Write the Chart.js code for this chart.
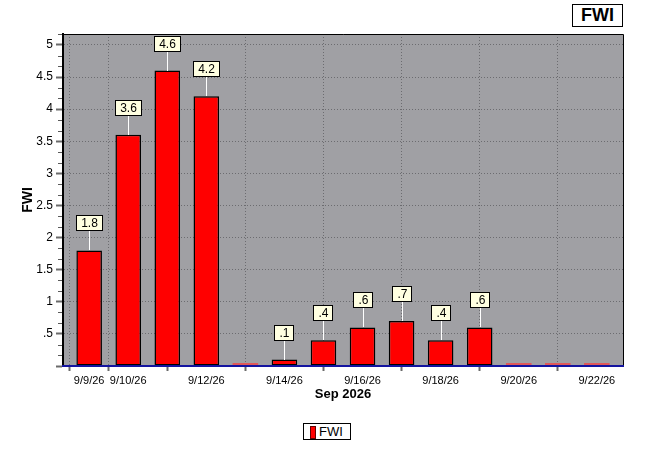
<!DOCTYPE html>
<html>
<head>
<meta charset="utf-8">
<title>FWI</title>
<script src="https://cdn.jsdelivr.net/npm/chart.js@4.4.0/dist/chart.umd.min.js"></script>
<style>
    html, body { margin: 0; padding: 0; background: #fff; }
    #wrap { position: relative; width: 655px; height: 457px; font-family: "Liberation Sans", Arial, sans-serif; }
    #fwiChart { position: absolute; left: 0; top: 0; }
    .title-box {
        position: absolute; left: 572px; top: 4px; width: 51px; height: 23px;
        box-sizing: border-box; border: 1px solid #000; background: #fff;
        font-weight: bold; font-size: 18px; line-height: 21px; text-align: center;
    }
    .legend-box {
        position: absolute; left: 303px; top: 423px; width: 48px; height: 17px;
        box-sizing: border-box; border: 1px solid #000; background: #fff;
        font-size: 13px; line-height: 15px;
    }
    .legend-box .swatch {
        position: absolute; left: 6px; top: 2px; width: 4px; height: 11px;
        background: #ff0000; border: 1px solid #600000;
    }
    .legend-box .label { position: absolute; left: 15px; top: 0; }
</style>
</head>
<body>
<div id="wrap">
    <canvas id="fwiChart" width="655" height="457"></canvas>
    <div class="title-box">FWI</div>
    <div class="legend-box"><span class="swatch"></span><span class="label">FWI</span></div>
</div>
<script>
"use strict";

// Data
var categories = ['9/9/26', '9/10/26', '9/11/26', '9/12/26', '9/13/26', '9/14/26', '9/15/26',
                  '9/16/26', '9/17/26', '9/18/26', '9/19/26', '9/20/26', '9/21/26', '9/22/26'];
var fwiValues = [1.8, 3.6, 4.6, 4.2, 0, 0.1, 0.4, 0.6, 0.7, 0.4, 0.6, 0, 0, 0];
var xTickIndexes = [0, 1, 3, 5, 7, 9, 11, 13]; // dates that carry a label
var yTickValues = [0, 0.5, 1, 1.5, 2, 2.5, 3, 3.5, 4, 4.5, 5];

var FONT = '"Liberation Sans", Arial, sans-serif';

// "0.5" -> ".5", 0 -> ""
function shortNumber(v) {
    if (v === 0) {
        return '';
    }
    return String(v).replace(/^0\./, '.');
}

var FwiChart = function () {
    var plotFrame = {
        id: 'plotFrame',
        beforeDraw: function (chart) {
            var a = chart.chartArea;
            var ctx = chart.ctx;
            ctx.save();
            ctx.fillStyle = '#a0a0a4';
            ctx.fillRect(a.left, a.top, a.right - a.left, a.bottom - a.top);
            ctx.restore();
        },
        afterDraw: function (chart) {
            var a = chart.chartArea;
            var ctx = chart.ctx;
            var y = chart.scales.y;
            ctx.save();
            // top and right frame
            ctx.strokeStyle = '#000';
            ctx.lineWidth = 1;
            ctx.beginPath();
            ctx.moveTo(a.left, a.top + 0.5);
            ctx.lineTo(a.right + 0.5, a.top + 0.5);
            ctx.lineTo(a.right + 0.5, a.bottom - 1);
            ctx.stroke();
            // minor ticks on the value axis
            ctx.strokeStyle = '#5a5a5a';
            for (var k = 1; k / 6 <= y.max; k++) {
                if (k % 3 === 0) {
                    continue;
                }
                var py = Math.round(y.getPixelForValue(k / 6)) + 0.5;
                ctx.beginPath();
                ctx.moveTo(a.left - 5, py);
                ctx.lineTo(a.left - 1, py);
                ctx.stroke();
            }
            ctx.restore();
        }
    };

    // yellow value boxes with a white leader line
    var valueBoxes = {
        id: 'valueBoxes',
        afterDatasetsDraw: function (chart) {
            var ctx = chart.ctx;
            var meta = chart.getDatasetMeta(0);
            ctx.save();
            ctx.font = '12px ' + FONT;
            ctx.textAlign = 'center';
            ctx.textBaseline = 'middle';
            meta.data.forEach(function (bar, i) {
                var v = fwiValues[i];
                if (!v) {
                    return;
                }
                var text = shortNumber(v);
                var w = Math.round(ctx.measureText(text).width) + 10;
                var h = 16;
                var cx = Math.round(bar.x);
                var boxBottom = Math.round(bar.y) - 19;

                ctx.strokeStyle = '#ffffff';
                ctx.lineWidth = 1;
                ctx.beginPath();
                ctx.moveTo(cx + 0.5, boxBottom);
                ctx.lineTo(cx + 0.5, Math.round(bar.y));
                ctx.stroke();

                var left = Math.round(cx - w / 2);
                ctx.fillStyle = '#ffffe1';
                ctx.fillRect(left, boxBottom - h, w, h);
                ctx.strokeStyle = '#000';
                ctx.strokeRect(left + 0.5, boxBottom - h + 0.5, w - 1, h - 1);
                ctx.fillStyle = '#000';
                ctx.fillText(text, cx + 0.5, boxBottom - h / 2 + 0.5);
            });
            ctx.restore();
        }
    };

    var initFwiChart = function () {
        var element = document.getElementById('fwiChart');
        var points = fwiValues.map(function (v, i) {
            return { x: i, y: v };
        });

        var config = {
            type: 'bar',
            data: {
                datasets: [{
                    label: 'FWI',
                    data: points,
                    backgroundColor: function (c) {
                        return fwiValues[c.dataIndex] === 0 ? '#e05858' : '#ff0000';
                    },
                    borderColor: '#000',
                    borderWidth: function (c) {
                        return fwiValues[c.dataIndex] === 0 ? 0 : 1.5;
                    },
                    borderSkipped: false,
                    minBarLength: 3,
                    barPercentage: 0.655,
                    categoryPercentage: 1
                }]
            },
            options: {
                responsive: false,
                animation: false,
                layout: {
                    padding: { top: 34, right: 32, bottom: 55, left: 0 }
                },
                scales: {
                    x: {
                        type: 'linear',
                        offset: false,
                        min: -0.67,
                        max: 13.67,
                        afterBuildTicks: function (scale) {
                            scale.ticks = xTickIndexes.map(function (i) { return { value: i }; });
                        },
                        afterFit: function (scale) {
                            scale.height = 36;
                        },
                        ticks: {
                            autoSkip: false,
                            maxRotation: 0,
                            padding: 3,
                            color: '#000',
                            font: { family: FONT, size: 11 },
                            callback: function (value) {
                                return categories[value];
                            }
                        },
                        grid: {
                            color: '#6c6c70',
                            tickColor: '#6a6a6a',
                            tickBorderDash: [],
                            tickLength: 5,
                            tickWidth: 2
                        },
                        border: { color: '#1414a0', width: 2, dash: [1, 2], z: 1 },
                        title: {
                            display: true,
                            text: 'Sep 2026',
                            color: '#000',
                            font: { family: FONT, size: 13, weight: 'bold' },
                            padding: { top: 0, bottom: 0 }
                        }
                    },
                    y: {
                        min: 0,
                        max: 5.17,
                        afterBuildTicks: function (scale) {
                            scale.ticks = yTickValues.map(function (v) { return { value: v }; });
                        },
                        afterFit: function (scale) {
                            scale.width = 63;
                        },
                        ticks: {
                            padding: 3,
                            color: '#000',
                            font: { family: FONT, size: 12 },
                            callback: function (value) {
                                return shortNumber(value);
                            }
                        },
                        grid: {
                            color: function (c) {
                                return c.tick && c.tick.value === 0 ? 'rgba(0,0,0,0)' : '#6c6c70';
                            },
                            tickColor: '#6a6a6a',
                            tickBorderDash: [],
                            tickLength: 7,
                            tickWidth: 2
                        },
                        border: { color: '#000', width: 2, dash: [1, 2] },
                        title: {
                            display: true,
                            text: 'FWI',
                            color: '#000',
                            font: { family: FONT, size: 14, weight: 'bold' },
                            padding: { top: 20, bottom: 0 }
                        }
                    }
                },
                plugins: {
                    legend: { display: false },
                    title: { display: false },
                    tooltip: { enabled: false }
                }
            },
            plugins: [plotFrame, valueBoxes]
        };

        element.chartInstance = new Chart(element.getContext('2d'), config);
    };

    return {
        init: function () {
            initFwiChart();
        }
    };
}();

document.addEventListener('DOMContentLoaded', function () {
    FwiChart.init();
});
</script>
</body>
</html>
